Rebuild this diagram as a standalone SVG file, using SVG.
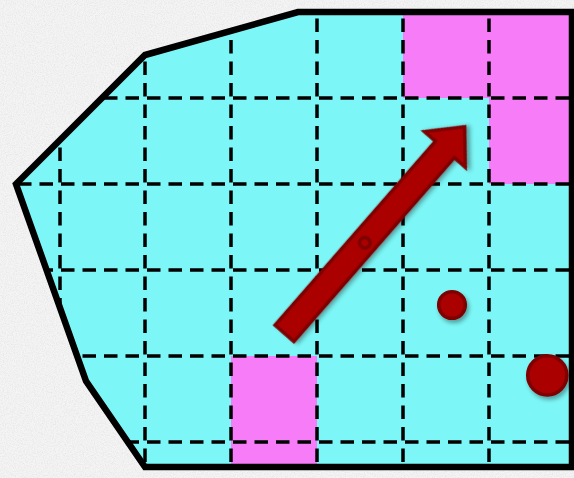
<svg xmlns="http://www.w3.org/2000/svg" width="574" height="478" viewBox="0 0 574 478">
  <style>
    .grid { fill: none; stroke: #000; stroke-width: 3.5; stroke-dasharray: 13.5 8; }
    .cyan { fill: #7cf6f6; }
    .mag { fill: #f77cf8; }
    .red { fill: #ab0000; stroke: #7e0000; stroke-width: 3.5; stroke-linejoin: miter; }
    .border { fill: none; stroke: #000; stroke-width: 6.5; stroke-linejoin: miter; }
  </style>
  <defs>
    <clipPath id="shapeClip">
      <path d="M298,12 L572,12 L572,467 L145,467 L86,381 L16,184 L145,55 Z"/>
    </clipPath>
    <filter id="paper" x="0" y="0" width="100%" height="100%">
      <feTurbulence type="fractalNoise" baseFrequency="0.9" numOctaves="3" seed="4" result="n"/>
      <feColorMatrix in="n" type="matrix" values="0 0 0 0 0  0 0 0 0 0  0 0 0 0 0  0 0 0 -0.9 0.55" result="a"/>
      <feFlood flood-color="#9a9a9a" result="c"/>
      <feComposite in="c" in2="a" operator="in"/>
    </filter>
    <filter id="shadow" x="-30%" y="-30%" width="160%" height="160%">
      <feGaussianBlur in="SourceAlpha" stdDeviation="2"/>
      <feOffset dx="2" dy="3" result="b"/>
      <feComponentTransfer><feFuncA type="linear" slope="0.35"/></feComponentTransfer>
      <feMerge><feMergeNode/><feMergeNode in="SourceGraphic"/></feMerge>
    </filter>
  </defs>

  <rect id="background" x="0" y="0" width="574" height="478" fill="#f4f4f4"/>
  <rect x="0" y="0" width="574" height="478" filter="url(#paper)" opacity="0.35"/>

  <g id="region">
    <g clip-path="url(#shapeClip)">
      <rect class="cyan" x="0" y="0" width="574" height="478"/>
      <g id="cell-top-1"><rect class="mag" x="403" y="0" width="86" height="98"/></g>
      <g id="cell-top-2"><rect class="mag" x="489" y="0" width="90" height="184"/></g>
      <g id="cell-bottom"><rect class="mag" x="231" y="356" width="86" height="120"/></g>
      <g id="grid">
        <path class="grid" d="M-25,98 H600 M-25,184 H600 M-25,270 H600 M-25,356 H600 M-25,442 H600"/>
        <path class="grid" d="M60,-3 V500 M145,-3 V500 M231,-3 V500 M317,-3 V500 M403,-3 V500 M489,-3 V500"/>
      </g>
    </g>
    <path class="border" d="M298,12 L572,12 L572,467 L145,467 L86,381 L16,184 L145,55 Z"/>
  </g>

  <g id="connectors">
    <g id="arrow" filter="url(#shadow)" transform="translate(284.5,333.3) rotate(-48.9)">
      <path class="red" d="M0,-12.5 L244,-12.5 L244,-27 L274,0 L244,27 L244,12.5 L0,12.5 Z"/>
      <circle class="red" cx="121" cy="1" r="5.2"/>
    </g>
  </g>

  <g id="dot-small" filter="url(#shadow)">
    <circle class="red" cx="452" cy="305" r="13.3"/>
  </g>
  <g id="dot-large" filter="url(#shadow)">
    <circle class="red" cx="547.3" cy="375.3" r="19.6"/>
  </g>
</svg>
